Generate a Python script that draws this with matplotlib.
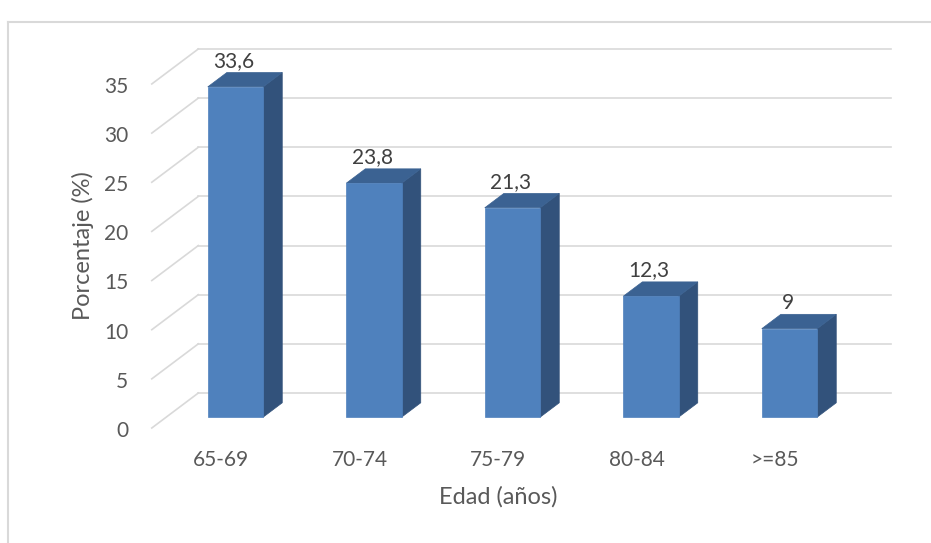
import matplotlib
matplotlib.use("Agg")
import matplotlib.pyplot as plt
from matplotlib.patches import Polygon

categorias = ["65-69", "70-74", "75-79", "80-84", ">=85"]
porcentajes = [33.6, 23.8, 21.3, 12.3, 9]
etiquetas = ["33,6", "23,8", "21,3", "12,3", "9"]
ticks_y = [0, 5, 10, 15, 20, 25, 30, 35]

plt.rcParams["font.family"] = ["Lato", "DejaVu Sans"]
texto = "#595959"
rejilla = "#D9D9D9"
frente = "#4F81BD"
lado = "#32527B"
techo = "#3B6292"

# oblique depth: one full depth unit moves this much in x (categories) and y (values)
DX, DY = 0.336, 3.56
d0, d1 = 0.31, 0.72   # depth range taken by the bars
ancho = 0.2           # half width of a bar


def proj(x, v, d):
    return (x + d * DX, v + d * DY)


fig = plt.figure(figsize=(9.31, 5.43), dpi=100)
ax = fig.add_axes([0, 0, 1, 1])
ax.set_xlim(-1.596, 5.126)
ax.set_ylim(-11.70, 43.54)
ax.axis("off")

# walls: horizontal lines on the back, diagonals on the left side
n = len(categorias)
for t in ticks_y:
    x0, y0 = proj(-0.5, t, 0)
    x1, y1 = proj(-0.5, t, 1)
    ax.plot([x0, x1], [y0, y1], color=rejilla, lw=1.2, zorder=1)
    xb, yb = proj(n - 0.5, t, 1)
    ax.plot([x1, xb], [y1, yb], color=rejilla, lw=1.2, zorder=1)
    ax.text(-0.671, t - 0.3, str(t), ha="right", va="center",
            fontsize=15, color=texto)

for i, (val, lab) in enumerate(zip(porcentajes, etiquetas)):
    l, r = i - ancho, i + ancho
    cara = [proj(l, 0, d0), proj(r, 0, d0), proj(r, val, d0), proj(l, val, d0)]
    costado = [proj(r, 0, d0), proj(r, 0, d1), proj(r, val, d1), proj(r, val, d0)]
    arriba = [proj(l, val, d0), proj(r, val, d0), proj(r, val, d1), proj(l, val, d1)]
    ax.add_patch(Polygon(costado, closed=True, fc=lado, ec=lado, lw=0.5, zorder=3))
    ax.add_patch(Polygon(arriba, closed=True, fc=techo, ec=techo, lw=0.5, zorder=3))
    ax.add_patch(Polygon(cara, closed=True, fc=frente, ec=frente, lw=0.5, zorder=4))
    ax.text(i + 0.09, val + d1 * DY + 1.15, lab, ha="center", va="center",
            fontsize=15, color="#404040", zorder=5)
    ax.text(i, -3.26, categorias[i], ha="center", va="center",
            fontsize=15, color=texto)

ax.text(2.0, -7.0, "Edad (años)", ha="center", va="center", fontsize=17, color=texto)
ax.text(-1.0, 18.6, "Porcentaje (%)", ha="center", va="center", rotation=90,
        fontsize=17, color=texto)

# chart frame
fig.add_artist(plt.Line2D([8 / 931, 8 / 931], [0, 1 - 22 / 543],
                          transform=fig.transFigure, color=rejilla, lw=1.5))
fig.add_artist(plt.Line2D([8 / 931, 1], [1 - 22 / 543, 1 - 22 / 543],
                          transform=fig.transFigure, color=rejilla, lw=1.5))

fig.savefig("out.png", dpi=100)
